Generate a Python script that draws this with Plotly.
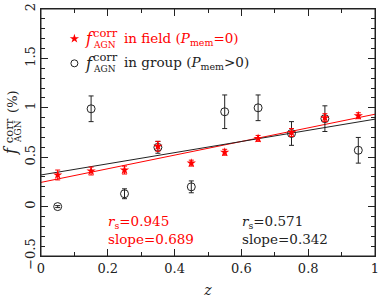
import plotly.graph_objects as go

z_bins = [0.05, 0.15, 0.25, 0.35, 0.45, 0.55, 0.65, 0.75, 0.85, 0.95]
field_vals = [0.32, 0.36, 0.37, 0.61, 0.44, 0.55, 0.69, 0.75, 0.90, 0.92]
field_errs = [0.05, 0.04, 0.04, 0.05, 0.03, 0.03, 0.03, 0.04, 0.04, 0.03]
group_vals = [0.00, 0.99, 0.13, 0.60, 0.20, 0.96, 1.00, 0.74, 0.89, 0.57]
group_errs = [0.01, 0.13, 0.05, 0.06, 0.06, 0.17, 0.13, 0.12, 0.13, 0.13]
fit_z = [0.0, 1.0]
field_fit = [0.245, 0.935]
group_fit = [0.32, 0.885]

RED = "#ff0000"
BLK = "#222222"
FONT = "DejaVu Serif, Liberation Serif, serif"

fig = go.Figure()
fig.add_trace(go.Scatter(x=fit_z, y=field_fit, mode="lines", line=dict(color=RED, width=1), showlegend=False))
fig.add_trace(go.Scatter(x=fit_z, y=group_fit, mode="lines", line=dict(color=BLK, width=1), showlegend=False))
fig.add_trace(go.Scatter(
    x=z_bins, y=group_vals, mode="markers",
    marker=dict(symbol="circle-open", size=8, color=BLK, line=dict(width=1)),
    error_y=dict(type="data", array=group_errs, color=BLK, thickness=1, width=2.5),
    showlegend=False))
fig.add_trace(go.Scatter(
    x=z_bins, y=field_vals, mode="markers",
    marker=dict(symbol="star", size=7, color=RED, line=dict(width=0)),
    error_y=dict(type="data", array=field_errs, color=RED, thickness=1, width=2.5),
    showlegend=False))

# legend markers
fig.add_trace(go.Scatter(x=[0.1], y=[1.7], mode="markers",
    marker=dict(symbol="star", size=7, color=RED), showlegend=False))
fig.add_trace(go.Scatter(x=[0.1], y=[1.45], mode="markers",
    marker=dict(symbol="circle-open", size=7, color=BLK, line=dict(width=1)), showlegend=False))

ann = []
def fsym(x, y, color):
    ann.append(dict(x=x, y=y, text="<i>f</i>", showarrow=False,
                    xanchor="left", yanchor="middle", font=dict(family=FONT, size=16, color=color)))
    ann.append(dict(x=x, y=y, text="corr", showarrow=False, xshift=8, yshift=6,
                    xanchor="left", yanchor="middle", font=dict(family=FONT, size=11.5, color=color)))
    ann.append(dict(x=x, y=y, text="AGN", showarrow=False, xshift=8, yshift=-6,
                    xanchor="left", yanchor="middle", font=dict(family=FONT, size=9, color=color)))

fsym(0.125, 1.7, RED)
ann.append(dict(x=0.125, y=1.7, text="in field (<i>P</i><sub>mem</sub>=0)", showarrow=False, xshift=39,
                xanchor="left", yanchor="middle", font=dict(family=FONT, size=13.5, color=RED)))
fsym(0.125, 1.45, BLK)
ann.append(dict(x=0.125, y=1.45, text="in group (<i>P</i><sub>mem</sub>>0)", showarrow=False, xshift=39,
                xanchor="left", yanchor="middle", font=dict(family=FONT, size=13.5, color=BLK)))

ann.append(dict(x=0.195, y=-0.155, text="<i>r</i><sub>s</sub>=0.945", showarrow=False,
                xanchor="left", yanchor="middle", font=dict(family=FONT, size=13.5, color=RED)))
ann.append(dict(x=0.195, y=-0.325, text="slope=0.689", showarrow=False,
                xanchor="left", yanchor="middle", font=dict(family=FONT, size=13.5, color=RED)))
ann.append(dict(x=0.595, y=-0.155, text="<i>r</i><sub>s</sub>=0.571", showarrow=False,
                xanchor="left", yanchor="middle", font=dict(family=FONT, size=13.5, color=BLK)))
ann.append(dict(x=0.595, y=-0.325, text="slope=0.342", showarrow=False,
                xanchor="left", yanchor="middle", font=dict(family=FONT, size=13.5, color=BLK)))

# y-axis title pieces (rotated)
ann.append(dict(x=-0.089, y=0.43, xref="paper", yref="paper", text="<i>f</i>", showarrow=False, textangle=-90,
                xanchor="center", yanchor="middle", font=dict(family=FONT, size=16, color=BLK)))
ann.append(dict(x=-0.097, y=0.508, xref="paper", yref="paper", text="corr", showarrow=False, textangle=-90,
                xanchor="center", yanchor="middle", font=dict(family=FONT, size=11.5, color=BLK)))
ann.append(dict(x=-0.071, y=0.503, xref="paper", yref="paper", text="AGN", showarrow=False, textangle=-90,
                xanchor="center", yanchor="middle", font=dict(family=FONT, size=9, color=BLK)))
ann.append(dict(x=-0.086, y=0.625, xref="paper", yref="paper", text="(%)", showarrow=False, textangle=-90,
                xanchor="center", yanchor="middle", font=dict(family=FONT, size=13, color=BLK)))

fig.update_layout(
    width=382, height=301,
    margin=dict(l=41, r=4, t=3, b=45),
    plot_bgcolor="white", paper_bgcolor="white",
    annotations=ann,
    font=dict(family=FONT, size=13, color=BLK),
    shapes=[dict(type="rect", xref="paper", yref="paper", x0=0, y0=0, x1=1, y1=1,
                 line=dict(color=BLK, width=1), fillcolor="rgba(0,0,0,0)", layer="above")],
    xaxis=dict(range=[0, 1], tickvals=[0, 0.2, 0.4, 0.6, 0.8, 1], ticktext=["0", "0.2", "0.4", "0.6", "0.8", "1"],
               ticks="inside", ticklen=7, tickcolor=BLK, showline=True, linecolor=BLK, linewidth=1, mirror="ticks",
               showgrid=False, zeroline=False, ticklabeloverflow="allow",
               minor=dict(dtick=0.1, ticks="inside", ticklen=4, tickcolor=BLK),
               title=dict(text="<i>z</i>", font=dict(family=FONT, size=14), standoff=10)),
    yaxis=dict(range=[-0.5, 2], tickvals=[-0.5, 0, 0.5, 1, 1.5, 2], ticktext=["−0.5", "0", "0.5", "1", "1.5", "2"],
               tickangle=-90, ticklabeloverflow="allow",
               ticks="inside", ticklen=7, tickcolor=BLK, showline=True, linecolor=BLK, linewidth=1, mirror="ticks",
               showgrid=False, zeroline=False,
               minor=dict(dtick=0.1, ticks="inside", ticklen=4, tickcolor=BLK)),
)

fig.write_html("out.html", config={"displayModeBar": False},
               post_script="document.body.style.margin='0';document.body.style.overflow='hidden';")
